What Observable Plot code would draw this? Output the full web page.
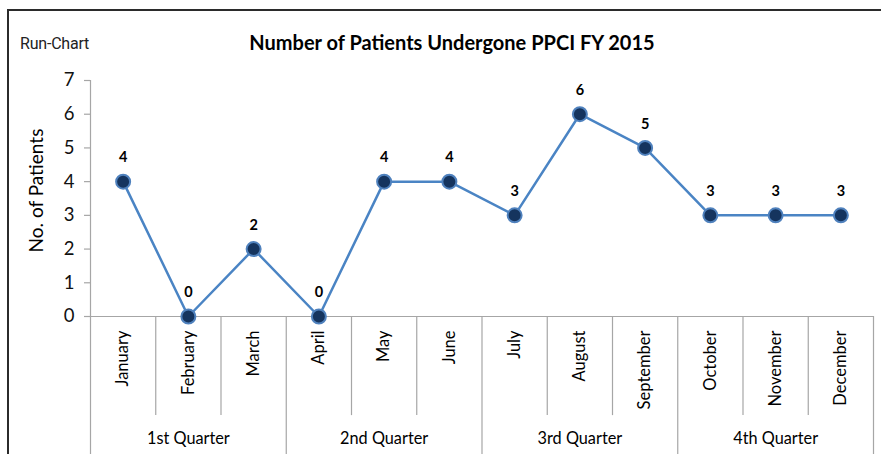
<!DOCTYPE html>
<html>
<head>
<meta charset="utf-8">
<script src="https://cdn.jsdelivr.net/npm/d3@7"></script>
<script src="https://cdn.jsdelivr.net/npm/@observablehq/plot@0.6"></script>
<style>
  html, body { margin: 0; padding: 0; background: #fff; }
  #wrap { position: relative; width: 881px; height: 454px; overflow: hidden; }
  #border { position: absolute; left: 7px; top: 9px; width: 1000px; height: 1000px; border: 2px solid #2b2b2b; box-sizing: border-box; }
  #title { position: absolute; left: 0; width: 904px; top: 30px; text-align: center; font: bold 20px Lato, sans-serif; color: #000; }
  #run { position: absolute; left: 20px; top: 34px; font: 16px Roboto, sans-serif; color: #222; letter-spacing: -0.2px; }
  #chart { position: absolute; left: 0; top: 0; }
</style>
</head>
<body>
<div id="wrap">
  <div id="border"></div>
  <div id="chart"></div>
  <div id="run">Run-Chart</div>
  <div id="title">Number of Patients Undergone PPCI FY 2015</div>
</div>
<script>
const months = ["January","February","March","April","May","June","July","August","September","October","November","December"];
const patients = [4, 0, 2, 0, 4, 4, 3, 6, 5, 3, 3, 3];
const quarters = ["1st Quarter","2nd Quarter","3rd Quarter","4th Quarter"];
const yTicks = [0, 1, 2, 3, 4, 5, 6, 7];

const data = months.map((m, i) => ({month: m, idx: i + 0.5, value: patients[i]}));
const monthBounds = d3.range(1, months.length).filter(i => i % 3 !== 0);
const quarterBounds = d3.range(0, months.length + 1, 3);
const qData = quarters.map((q, i) => ({q, idx: i * 3 + 1.5}));

const grid = "#a6a6a6";
const chart = Plot.plot({
  width: 881,
  height: 454,
  marginLeft: 90,
  marginRight: 8,
  marginTop: 80,
  marginBottom: 138,
  style: {fontFamily: "Lato, sans-serif", background: "transparent", overflow: "visible"},
  x: {type: "linear", domain: [0, months.length], axis: null},
  y: {domain: [0, 7], axis: null},
  marks: [
    Plot.ruleY([0], {x1: 0, x2: months.length, stroke: grid, strokeWidth: 1.2}),
    Plot.ruleX(monthBounds, {y1: 0, y2: -2.94, stroke: grid, strokeWidth: 1.2}),
    Plot.ruleX(quarterBounds, {y1: 0, y2: -4.3, stroke: grid, strokeWidth: 1.2}),
    Plot.ruleX([0], {y1: 0, y2: 7, stroke: grid, strokeWidth: 1.2}),
    Plot.ruleY(yTicks, {y: d => d, x1: -0.092, x2: 0, stroke: grid, strokeWidth: 1.2}),
    Plot.text(yTicks, {y: d => d, frameAnchor: "left", dx: -16, textAnchor: "end", text: d => String(d), fontSize: 18.5, fill: "#111"}),
    Plot.text(["No. of Patients"], {frameAnchor: "left", textAnchor: "middle", dx: -54, dy: -8, rotate: -90, fontSize: 19, fill: "#000"}),
    Plot.line(data, {x: "idx", y: "value", stroke: "#4a84c4", strokeWidth: 2.5}),
    Plot.dot(data, {x: "idx", y: "value", r: 7, fill: "#15345e", stroke: "#4f81bd", strokeWidth: 2}),
    Plot.text(data, {x: "idx", y: "value", text: d => String(d.value), dy: -24, fontWeight: "bold", fontSize: 14.5, fill: "#000"}),
    Plot.text(data, {x: "idx", y: () => 0, text: "month", rotate: -90, textAnchor: "end", dy: 14, fontSize: 16.5, fill: "#000"}),
    Plot.text(qData, {x: "idx", y: () => 0, text: "q", dy: 122, fontSize: 16.3, fill: "#000"})
  ]
});
document.getElementById("chart").appendChild(chart);
</script>
</body>
</html>
